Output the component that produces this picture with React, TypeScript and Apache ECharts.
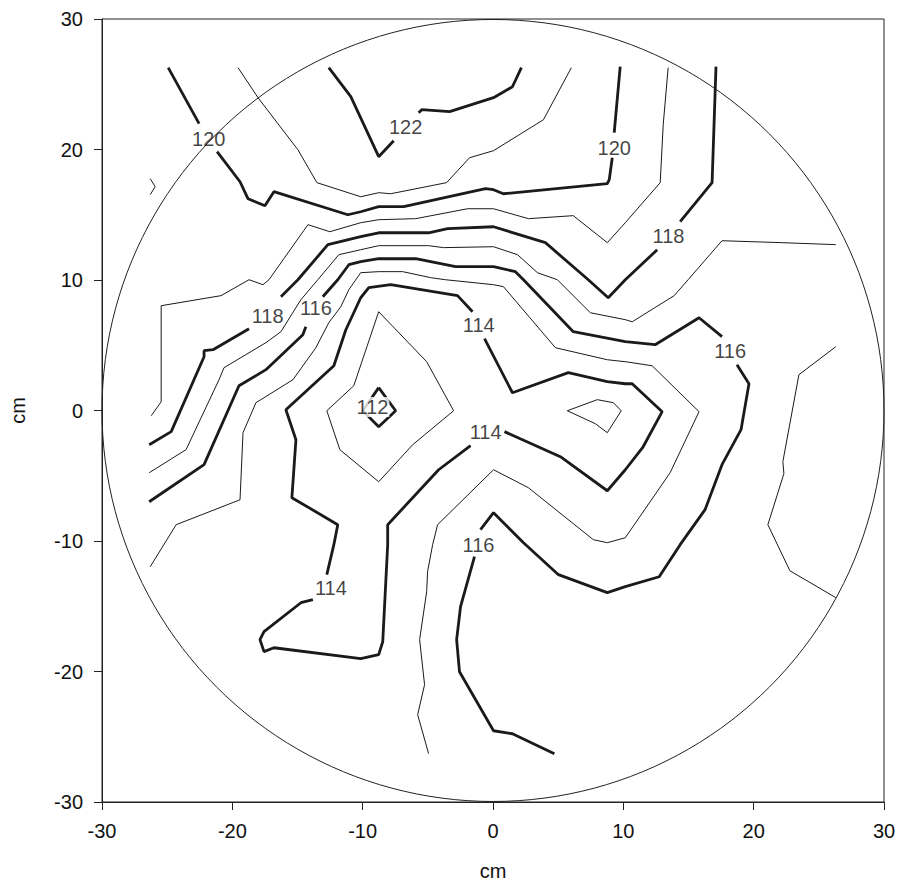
import React, { useEffect, useRef } from "react";
import * as echarts from "echarts";

type P = [number, number] | null;

// Axis ticks (cm)
const X_TICKS = [-30, -20, -10, 0, 10, 20, 30];
const Y_TICKS = [-30, -20, -10, 0, 10, 20, 30];
const RADIUS_CM = 30;

// Contour lines (x cm, y cm); null = gap where a label sits
const C122: P[] = [[-12.6, 26.27], [-10.91, 24.05], [-8.77, 19.45], [-7.62, 20.67], null, [-5.7, 22.82], [-5.47, 23.05], [-3.33, 22.9], [0.04, 23.97], [1.49, 24.81], [2.18, 26.27]];
const C121a: P[] = [[-19.56, 26.27], [-18.03, 23.97], [-14.97, 19.98], [-13.51, 17.46], [-10.15, 16.38], [-8.77, 16.69], [-7.85, 16.61], [-3.56, 17.46], [-1.8, 19.37], [0.04, 19.91], [3.87, 22.28], [6.01, 26.27]];
const C121b: P[] = [[-26.3, 17.76], [-25.92, 17.15], [-26.3, 16.54]];
const C120: P[] = [[-24.92, 26.27], [-22.55, 21.98], null, [-21.17, 19.83], [-19.41, 17.53], [-18.8, 16.23], [-17.5, 15.69], [-16.81, 16.77], [-11.14, 15.0], [-10.15, 15.23], [-8.77, 15.62], [-6.85, 15.62], [-0.57, 17.0], [0.04, 16.92], [0.8, 16.61], [8.77, 17.38], [8.92, 17.69], [9.15, 19.37], null, [9.3, 21.29], [9.76, 26.35]];
const C119: P[] = [[-26.22, -0.4], [-25.46, 0.67], [-25.46, 8.03], [-20.87, 8.8], [-18.72, 10.02], [-17.65, 9.64], [-17.19, 10.02], [-14.2, 14.24], [-12.52, 13.7], [-10.15, 14.39], [-8.77, 14.62], [-5.93, 14.7], [-1.95, 15.46], [0.04, 15.46], [2.72, 14.7], [6.16, 14.93], [8.77, 12.86], [10.15, 14.39], [12.83, 17.46], [13.06, 21.9], [13.44, 26.27]];
const C118: P[] = [[-26.38, -2.62], [-24.69, -1.62], [-22.17, 4.12], [-22.17, 4.58], [-21.48, 4.66], [-18.72, 6.27], null, [-16.27, 8.72], [-14.97, 10.02], [-12.67, 12.71], [-10.15, 13.32], [-8.77, 13.62], [-4.94, 13.62], [-3.48, 13.93], [0.04, 14.08], [4.02, 12.86], [7.31, 10.02], [8.84, 8.64], [10.15, 10.02], [12.6, 12.32], null, [14.36, 14.47], [16.81, 17.46], [17.11, 26.35]];
const C117: P[] = [[-26.38, -4.77], [-23.55, -3.0], [-21.02, 2.36], [-20.64, 3.28], [-17.42, 5.2], [-16.27, 6.04], [-14.74, 8.49], [-13.44, 10.02], [-11.83, 11.94], [-10.15, 12.32], [-8.77, 12.63], [-4.94, 12.63], [-3.79, 12.48], [0.04, 12.55], [1.88, 11.94], [3.41, 10.56], [4.94, 10.02], [7.47, 7.49], [10.15, 6.96], [10.68, 6.8], [13.9, 8.8], [14.97, 10.02], [17.57, 13.01], [22.17, 12.86], [26.3, 12.71]];
const C116: P[] = [[-26.38, -6.99], [-22.17, -4.15], [-19.49, 1.9], [-17.42, 3.13], [-14.59, 5.81], [-14.36, 6.42], null, [-13.06, 8.72], [-11.91, 10.02], [-11.06, 11.17], [-10.15, 11.4], [-8.77, 11.63], [-5.93, 11.63], [-2.87, 11.02], [0.04, 11.02], [1.72, 10.64], [2.34, 10.02], [6.16, 6.04], [10.15, 5.27], [12.44, 5.04], [15.81, 7.11], [17.57, 5.66], null, [18.72, 3.51], [19.64, 2.05], [19.03, -1.47], [17.57, -4.15], [16.27, -7.6], [14.36, -10.28], [12.75, -12.74], [10.15, -13.5], [8.77, -13.96], [5.02, -12.58], [2.34, -10.13], [0.04, -7.83], [-0.96, -9.13], null, [-1.42, -11.2], [-2.49, -15.03], [-2.79, -17.56], [-2.57, -20.02], [0.04, -24.54], [1.49, -24.77], [4.71, -26.3]];
const C115a: P[] = [[-26.3, -11.97], [-24.31, -8.75], [-19.41, -6.84], [-19.18, -1.7], [-18.19, 0.6], [-17.57, 0.98], [-15.35, 2.36], [-13.59, 4.81], [-12.6, 6.73], [-11.68, 7.95], [-11.06, 9.26], [-10.15, 10.56], [-8.77, 10.64], [-6.93, 10.64], [-4.79, 10.18], [-3.64, 10.02], [0.04, 9.64], [0.8, 9.49], [4.79, 4.81], [8.77, 3.89], [10.15, 3.74], [12.21, 3.43], [15.81, -0.09], [13.59, -4.77], [10.15, -9.75], [8.77, -10.13], [7.7, -9.9], [2.72, -5.92], [0.04, -4.54], [-4.25, -8.75], [-4.63, -10.28], [-5.02, -12.35], [-5.09, -13.89], [-5.63, -17.56], [-5.25, -21.01], [-5.78, -23.31], [-4.94, -26.3]];
const C115b: P[] = [[26.3, 4.89], [23.47, 2.74], [22.24, -3.92], [22.32, -4.84], [21.09, -8.75], [22.78, -12.28], [26.3, -14.34]];
const C114: P[] = [[-1.57, 7.57], [-2.72, 8.8], [-7.85, 9.64], [-9.53, 9.41], [-10.15, 8.64], [-11.29, 6.19], [-12.21, 3.43], [-15.89, 0.06], [-15.12, -2.24], [-15.43, -6.68], [-11.91, -8.75], [-12.21, -10.28], [-12.75, -12.58], null, [-13.82, -14.5], [-14.74, -14.73], [-17.57, -16.95], [-17.88, -17.56], [-17.57, -18.48], [-16.81, -18.18], [-10.15, -19.02], [-8.77, -18.71], [-8.46, -17.72], [-8.08, -10.28], [-8.08, -8.75], [-4.17, -4.54], [-1.72, -2.7], null, [0.88, -1.62], [5.17, -3.54], [8.77, -6.15], [10.15, -4.54], [11.52, -2.78], [12.98, -0.09], [10.68, 2.05], [10.15, 2.05], [8.77, 2.21], [5.78, 2.9], [1.49, 1.36], [-0.65, 5.5]];
const C113a: P[] = [[-8.77, 7.57], [-5.09, 3.74], [-3.02, -0.02], [-6.16, -2.62], [-8.77, -5.46], [-11.75, -3.0], [-12.75, -0.02], [-10.68, 1.9], [-8.77, 7.57]];
const C113b: P[] = [[5.7, -0.02], [8.0, 0.83], [9.23, 0.6], [9.84, -0.02], [8.77, -1.7], [7.85, -1.01], [5.7, -0.02]];
const C112: P[] = [[-8.77, 1.75], [-7.47, -0.02], [-8.77, -1.24], [-9.99, -0.02], [-8.77, 1.75]];

const CONTOURS: { level: number; pts: P[] }[] = [
  { level: 122, pts: C122 },
  { level: 121, pts: C121a },
  { level: 121, pts: C121b },
  { level: 120, pts: C120 },
  { level: 119, pts: C119 },
  { level: 118, pts: C118 },
  { level: 117, pts: C117 },
  { level: 116, pts: C116 },
  { level: 115, pts: C115a },
  { level: 115, pts: C115b },
  { level: 114, pts: C114 },
  { level: 113, pts: C113a },
  { level: 113, pts: C113b },
  { level: 112, pts: C112 },
];

// Contour labels: [x, y, text]
const LABELS: [number, number, string][] = [
  [-21.81, 20.83, "120"],
  [9.3, 20.14, "120"],
  [-6.7, 21.69, "122"],
  [-17.29, 7.26, "118"],
  [13.46, 13.34, "118"],
  [-13.59, 7.85, "116"],
  [18.19, 4.53, "116"],
  [-1.11, -10.28, "116"],
  [-1.09, 6.57, "114"],
  [-0.57, -1.68, "114"],
  [-12.44, -13.6, "114"],
];
const LABEL112: [number, number, string] = [-9.25, 0.27, "112"];

const FONT = "Liberation Sans, Arial, Helvetica, sans-serif";
const INK = "#1a1a1a";
const TEXT = "#111";

function splitSegments(pts: P[]): [number, number][][] {
  const segs: [number, number][][] = [];
  let cur: [number, number][] = [];
  for (const p of pts) {
    if (p === null) {
      if (cur.length) segs.push(cur);
      cur = [];
    } else cur.push(p);
  }
  if (cur.length) segs.push(cur);
  return segs;
}

export default function App() {
  const ref = useRef<HTMLDivElement>(null);

  useEffect(() => {
    if (!ref.current) return;
    const chart = echarts.init(ref.current, undefined, { renderer: "svg" });

    const series: any[] = [];
    CONTOURS.forEach((c) => {
      const thick = c.level % 2 === 0;
      splitSegments(c.pts).forEach((seg) => {
        series.push({
          type: "line",
          data: seg,
          showSymbol: false,
          symbol: "none",
          smooth: false,
          silent: true,
          z: 2,
          lineStyle: { color: INK, width: thick ? 2.8 : 1 },
        });
      });
    });

    series.push({
      type: "scatter",
      symbolSize: 0,
      silent: true,
      z: 5,
      data: LABELS.map((l) => ({ value: l })),
      label: {
        show: true,
        position: "inside",
        formatter: (p: any) => p.value[2],
        fontSize: 20,
        fontFamily: FONT,
        color: TEXT,
      },
    });
    series.push({
      type: "scatter",
      symbolSize: 0,
      silent: true,
      z: 5,
      data: [{ value: LABEL112 }],
      label: {
        show: true,
        position: "inside",
        formatter: (p: any) => p.value[2],
        fontSize: 20,
        fontFamily: FONT,
        color: TEXT,
        backgroundColor: "#fff",
        padding: [0, 1],
      },
    });

    const axisCommon = {
      type: "value",
      min: -30,
      max: 30,
      interval: 10,
      splitLine: { show: false },
      axisLine: { show: true, onZero: false, lineStyle: { color: "#222", width: 1 } },
      axisTick: { show: true, inside: false, length: 8, lineStyle: { color: "#222" } },
      nameLocation: "middle",
      nameTextStyle: { fontSize: 20, fontFamily: FONT, color: TEXT },
    };

    chart.setOption({
      animation: false,
      backgroundColor: "#fff",
      grid: {
        left: 101,
        right: 15,
        top: 19,
        bottom: 89,
        show: true,
        borderColor: "#222",
        borderWidth: 1,
        backgroundColor: "transparent",
      },
      xAxis: {
        ...axisCommon,
        name: "cm",
        nameGap: 59,
        axisLabel: {
          fontSize: 20,
          fontFamily: FONT,
          color: TEXT,
          margin: 19,
          formatter: (v: number) => (X_TICKS.includes(v) ? String(v) : ""),
        },
      },
      yAxis: {
        ...axisCommon,
        name: "cm",
        nameGap: 74,
        axisLabel: {
          fontSize: 20,
          fontFamily: FONT,
          color: TEXT,
          margin: 19,
          formatter: (v: number) => (Y_TICKS.includes(v) ? String(v) : ""),
        },
      },
      series,
    });

    const c = chart.convertToPixel({ gridIndex: 0 }, [0, 0]) as number[];
    const e = chart.convertToPixel({ gridIndex: 0 }, [RADIUS_CM, 0]) as number[];
    chart.setOption({
      graphic: [
        {
          type: "circle",
          shape: { cx: c[0], cy: c[1], r: e[0] - c[0] },
          style: { fill: "none", stroke: "#222", lineWidth: 1 },
          silent: true,
          z: 10,
        },
      ],
    });

    return () => chart.dispose();
  }, []);

  return (
    <div
      ref={ref}
      style={{ position: "fixed", left: 0, top: 0, width: 899, height: 891, background: "#fff" }}
    />
  );
}
